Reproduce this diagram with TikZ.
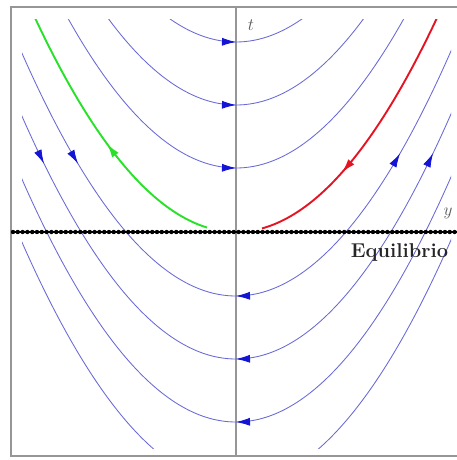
\documentclass[tikz,border=0pt]{standalone}
\usetikzlibrary{arrows.meta}
\definecolor{curveblue}{RGB}{105,105,215}
\definecolor{arrowblue}{RGB}{20,20,215}
\definecolor{eqgreen}{RGB}{40,225,40}
\definecolor{eqred}{RGB}{230,20,35}
\definecolor{axisgray}{RGB}{150,150,150}
\definecolor{labelgray}{RGB}{90,90,90}
\newcommand\flowtip[4]{%
  \draw[#4] ({2.36+#2-#3},{#1-0.53*(#2-#3)*(#2-#3)}) -- ({2.36+#2},{#1-0.53*(#2)*(#2)});}
\begin{document}
\begin{tikzpicture}[x=100pt,y=-100pt,
  flow/.style={curveblue, line width=0.85pt},
  tipblue/.style={arrowblue, line width=0.8pt, -{Latex[length=14pt,width=8pt]}},
  tipgreen/.style={eqgreen, line width=1.9pt, -{Latex[length=14pt,width=8pt]}},
  tipred/.style={eqred, line width=1.9pt, -{Latex[length=14pt,width=8pt]}},
  lbl/.style={inner sep=0pt, labelgray, font=\fontsize{17}{20}\selectfont}
]
\useasboundingbox (0,0) rectangle (4.57,4.60);
\fill[white] (0,0) rectangle (4.57,4.60);
% vertical axis
\draw[axisgray, line width=1.6pt] (2.36,0.07) -- (2.36,4.56);
% solution curves
\begin{scope}
  \clip (0.22,0.20) rectangle (4.51,4.48);
  \foreach \v in {0.42,1.05,1.68,2.96,3.59,4.22,4.85}
    \draw[flow] plot[domain=-2.25:2.25, samples=90, smooth] ({2.36+\x},{\v-0.53*\x*\x});
  \draw[eqgreen, line width=1.9pt] plot[domain=-2.25:-0.29, samples=60, smooth] ({2.36+\x},{2.32-0.53*\x*\x});
  \draw[eqred, line width=1.9pt] plot[domain=0.26:2.25, samples=60, smooth] ({2.36+\x},{2.32-0.53*\x*\x});
\end{scope}
% frame
\draw[axisgray, line width=1.3pt] (0.11,0.07) rectangle (4.70,4.56);
% equilibrium line
\draw[black, line width=2.2pt] (0.11,2.32) -- (4.57,2.32);
\draw[black, line width=4.4pt, line cap=round, dash pattern=on 0pt off 4.8pt] (0.13,2.32) -- (4.57,2.32);
% arrows at vertices
\foreach \v in {0.42,1.05,1.68} { \flowtip{\v}{0}{0.03}{tipblue} }
\foreach \v in {2.96,3.59,4.22} { \flowtip{\v}{0}{-0.03}{tipblue} }
% arrows on arms
\flowtip{3.59}{-1.92}{0.03}{tipblue}
\flowtip{2.96}{-1.58}{0.03}{tipblue}
\flowtip{2.96}{1.64}{0.03}{tipblue}
\flowtip{3.59}{1.97}{0.03}{tipblue}
\flowtip{2.32}{-1.29}{-0.03}{tipgreen}
\flowtip{2.32}{1.06}{-0.03}{tipred}
% labels
\node[lbl] (tlab) at (2.51,0.25) {$t$};
\node[lbl] (ylab) at (4.48,2.13) {$y$};
\node[inner sep=0pt, font=\fontsize{20}{24}\selectfont\bfseries, black!85] (eq) at (3.995,2.52) {Equilibrio};
\end{tikzpicture}
\end{document}
